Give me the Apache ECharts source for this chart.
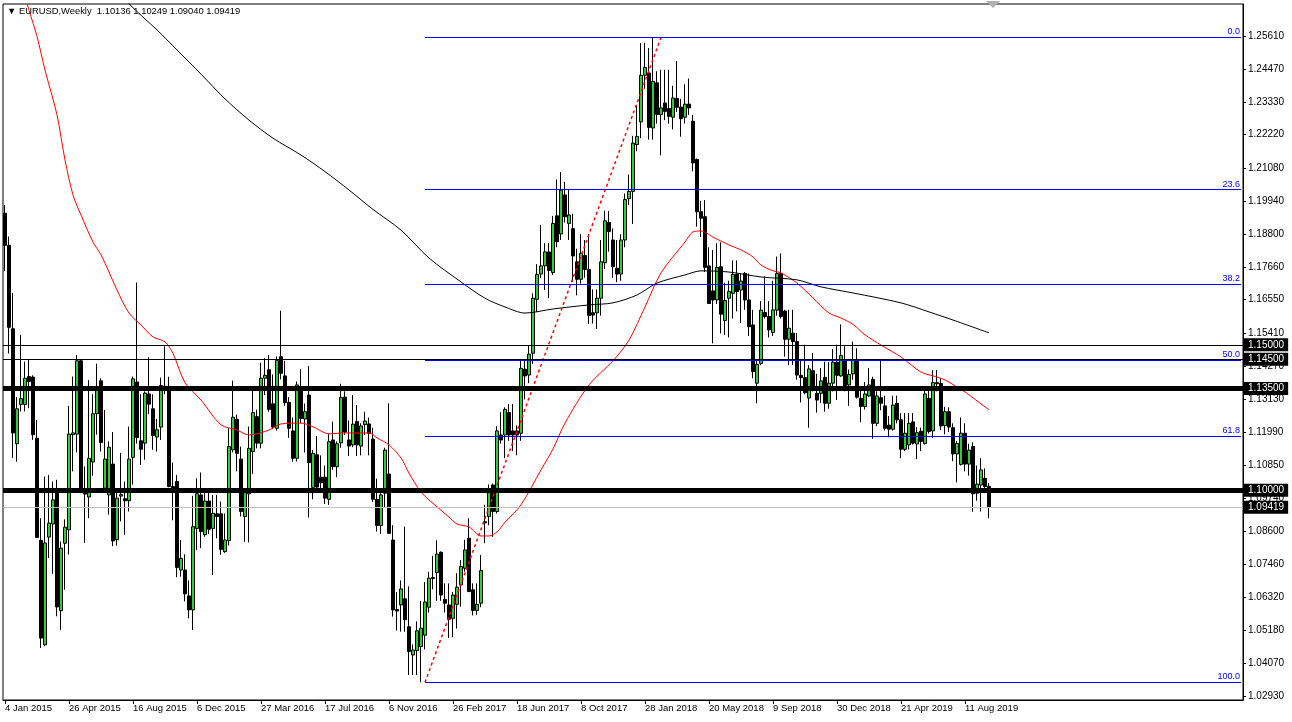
<!DOCTYPE html>
<html>
<head>
<meta charset="utf-8">
<script src="https://cdn.jsdelivr.net/npm/echarts@6/dist/echarts.min.js"></script>
<style>
html,body{margin:0;padding:0;background:#fff;}
#c{width:1292px;height:722px;}
</style>
</head>
<body>
<div id="c"></div>
<script>
// ---- Data (EURUSD weekly) ----
const headerText = '\u25BC EURUSD,Weekly  1.10136 1.10249 1.09040 1.09419';
const xTickLabels = ['4 Jan 2015','26 Apr 2015','16 Aug 2015','6 Dec 2015','27 Mar 2016','17 Jul 2016','6 Nov 2016','26 Feb 2017','18 Jun 2017','8 Oct 2017','28 Jan 2018','20 May 2018','9 Sep 2018','30 Dec 2018','21 Apr 2019','11 Aug 2019'];
const yTickValues = [1.25610,1.24470,1.23330,1.22220,1.21080,1.19940,1.18800,1.17660,1.16550,1.15410,1.14270,1.13130,1.11990,1.10850,1.09740,1.08600,1.07460,1.06320,1.05180,1.04070,1.02930];

const opens = [
1.1952,1.1842,1.1555,1.1160,1.1295,1.1295,1.1391,1.1389,1.1179,1.0828,
1.0469,1.0839,1.0884,1.0996,1.0586,1.0818,1.0864,1.1191,1.1193,1.1445,
1.0992,1.0977,1.1097,1.1263,1.1376,1.1007,1.0984,1.1090,1.0830,1.0980,
1.0971,1.0964,1.1113,1.1372,1.1170,1.1162,1.1331,1.1280,1.1183,1.1217,
1.1357,1.1345,1.1013,1.1030,1.0726,1.0726,1.0637,1.0589,1.0869,1.0984,
1.0847,1.0963,1.0869,1.0919,1.0919,1.0789,1.0827,1.1139,1.1244,1.1107,
1.0910,1.0988,1.1133,1.1253,1.1162,1.1385,1.1414,1.1297,1.1213,1.1459,
1.1393,1.1302,1.1204,1.1110,1.1345,1.1245,1.1327,1.1010,1.1122,1.1045,
1.1045,1.0969,1.1173,1.1081,1.1163,1.1320,1.1173,1.1156,1.1236,1.1152,
1.1226,1.1228,1.1176,1.0969,1.0879,1.0990,1.1056,1.0829,1.0590,1.0606,
1.0627,1.0531,1.0434,1.0449,1.0463,1.0502,1.0598,1.0700,1.0717,1.0787,
1.0625,1.0606,1.0560,1.0608,1.0675,1.0732,1.0835,1.0658,1.0587,1.0612,
1.0892,1.0910,1.1018,1.0927,1.1190,1.1190,1.1267,1.1204,1.1204,1.1196,
1.1416,1.1396,1.1471,1.1656,1.1743,1.1771,1.1819,1.1748,1.1943,1.1881,
1.2015,1.1917,1.1899,1.1785,1.1725,1.1807,1.1759,1.1610,1.1610,1.1660,
1.1782,1.1920,1.1860,1.1763,1.1743,1.1860,1.2002,1.2027,1.2188,1.2266,
1.2426,1.2434,1.2245,1.2400,1.2291,1.2331,1.2312,1.2282,1.2346,1.2317,
1.2282,1.2327,1.2268,1.2137,1.1957,1.1940,1.1771,1.1685,1.1654,1.1768,
1.1583,1.1660,1.1677,1.1742,1.1688,1.1745,1.1654,1.1568,1.1368,1.1436,
1.1611,1.1597,1.1542,1.1619,1.1745,1.1616,1.1519,1.1540,1.1511,1.1395,
1.1387,1.1317,1.1411,1.1333,1.1333,1.1388,1.1299,1.1368,1.1440,1.1393,
1.1445,1.1362,1.1400,1.1448,1.1316,1.1288,1.1324,1.1381,1.1230,1.1318,
1.1290,1.1224,1.1210,1.1299,1.1242,1.1141,1.1156,1.1235,1.1159,1.1203,
1.1161,1.1316,1.1204,1.1370,1.1367,1.1222,1.1270,1.1215,1.1125,1.1089,
1.1196,1.1090,1.1150,1.0990,1.1018,1.1041,1.10136];

const highs = [
1.1980,1.1872,1.1678,1.1320,1.1534,1.1442,1.1448,1.1395,1.1242,1.0904,
1.1047,1.1053,1.1030,1.1036,1.0824,1.0900,1.1290,1.1391,1.1465,1.1450,
1.1082,1.1379,1.1330,1.1435,1.1385,1.1276,1.1168,1.1200,1.0990,1.1128,
1.1030,1.1219,1.1391,1.1714,1.1330,1.1340,1.1457,1.1330,1.1245,1.1387,
1.1495,1.1390,1.1095,1.1053,1.0829,1.0780,1.0690,1.0981,1.1041,1.1061,
1.0990,1.0992,1.0984,1.0984,1.0961,1.0920,1.1213,1.1377,1.1260,1.1150,
1.1000,1.1219,1.1342,1.1277,1.1438,1.1454,1.1465,1.1398,1.1460,1.1617,
1.1445,1.1320,1.1250,1.1374,1.1416,1.1298,1.1427,1.1138,1.1186,1.1120,
1.1085,1.1193,1.1236,1.1168,1.1366,1.1340,1.1240,1.1327,1.1293,1.1230,
1.1270,1.1250,1.1215,1.1040,1.0990,1.1146,1.1299,1.0880,1.0650,1.0690,
1.0875,1.0670,1.0470,1.0550,1.0620,1.0685,1.0720,1.0775,1.0828,1.0790,
1.0680,1.0680,1.0650,1.0715,1.0760,1.0830,1.0904,1.0680,1.0680,1.0778,
1.0950,1.1020,1.1023,1.1220,1.1268,1.1285,1.1296,1.1296,1.1223,1.1445,
1.1445,1.1499,1.1677,1.1777,1.1912,1.1849,1.1850,1.1943,1.2068,1.2093,
1.2060,1.2035,1.1950,1.1830,1.1880,1.1860,1.1880,1.1690,1.1690,1.1860,
1.1961,1.1960,1.1900,1.1860,1.1880,1.2020,1.2085,1.2218,1.2323,1.2537,
1.2538,1.2520,1.2556,1.2440,1.2445,1.2445,1.2445,1.2390,1.2475,1.2345,
1.2395,1.2415,1.2290,1.2140,1.1995,1.1997,1.1835,1.1826,1.1849,1.1852,
1.1713,1.1720,1.1790,1.1790,1.1745,1.1750,1.1745,1.1620,1.1445,1.1650,
1.1735,1.1650,1.1720,1.1803,1.1814,1.1620,1.1620,1.1620,1.1540,1.1450,
1.1500,1.1430,1.1472,1.1400,1.1420,1.1442,1.1440,1.1485,1.1500,1.1570,
1.1495,1.1415,1.1511,1.1488,1.1342,1.1372,1.1420,1.1390,1.1340,1.1448,
1.1325,1.1255,1.1325,1.1325,1.1265,1.1265,1.1265,1.1265,1.1217,1.1215,
1.1348,1.1348,1.1413,1.1413,1.1385,1.1287,1.1285,1.1230,1.1170,1.1250,
1.1230,1.1160,1.1165,1.1085,1.1110,1.1075,1.10249];

const lows = [
1.1754,1.1470,1.1111,1.1098,1.1271,1.1271,1.1282,1.1173,1.0836,1.0458,
1.0464,1.0767,1.0712,1.0567,1.0520,1.0658,1.0779,1.1065,1.1130,1.0990,
1.0819,1.0904,1.1050,1.1191,1.1133,1.0992,1.0916,1.0808,1.0810,1.0893,
1.0847,1.0927,1.1019,1.1160,1.1087,1.1105,1.1262,1.1139,1.1133,1.1173,
1.1330,1.1010,1.0897,1.0701,1.0703,1.0618,1.0560,1.0520,1.0795,1.0801,
1.0840,1.0850,1.0709,1.0835,1.0778,1.0785,1.0810,1.1130,1.1065,1.0910,
1.0823,1.0821,1.1056,1.1144,1.1144,1.1327,1.1270,1.1210,1.1205,1.1381,
1.1290,1.1180,1.1098,1.1099,1.1230,1.1130,1.0906,1.0969,1.1002,1.1005,
1.0953,1.0950,1.1070,1.1045,1.1146,1.1190,1.1118,1.1148,1.1118,1.1120,
1.1190,1.1120,1.0960,1.0858,1.0850,1.0940,1.0850,1.0566,1.0518,1.0514,
1.0514,1.0365,1.0365,1.0365,1.0340,1.0453,1.0580,1.0660,1.0620,1.0620,
1.0580,1.0492,1.0495,1.0525,1.0600,1.0720,1.0650,1.0570,1.0572,1.0598,
1.0818,1.0880,1.0840,1.0920,1.1160,1.1110,1.1170,1.1135,1.1120,1.1170,
1.1312,1.1368,1.1434,1.1612,1.1730,1.1688,1.1660,1.1740,1.1835,1.1860,
1.1920,1.1860,1.1717,1.1670,1.1710,1.1730,1.1572,1.1573,1.1554,1.1600,
1.1760,1.1820,1.1730,1.1715,1.1720,1.1835,1.1980,1.1915,1.2165,1.2210,
1.2380,1.2205,1.2205,1.2260,1.2151,1.2272,1.2260,1.2240,1.2300,1.2215,
1.2260,1.2290,1.2096,1.1906,1.1870,1.1750,1.1640,1.1505,1.1640,1.1539,
1.1534,1.1525,1.1590,1.1615,1.1575,1.1620,1.1530,1.1385,1.1299,1.1430,
1.1590,1.1525,1.1530,1.1600,1.1590,1.1459,1.1430,1.1430,1.1380,1.1302,
1.1330,1.1215,1.1340,1.1267,1.1300,1.1270,1.1280,1.1340,1.1310,1.1390,
1.1340,1.1290,1.1380,1.1315,1.1234,1.1277,1.1320,1.1177,1.1220,1.1275,
1.1205,1.1182,1.1205,1.1230,1.1110,1.1135,1.1140,1.1157,1.1107,1.1135,
1.1157,1.1195,1.1180,1.1340,1.1207,1.1192,1.1200,1.1100,1.1027,1.1085,
1.1065,1.1050,1.0926,1.0964,1.0927,1.0990,1.09040];

const closes = [
1.1842,1.1560,1.1197,1.1280,1.1315,1.1385,1.1374,1.1191,1.0838,1.0492,
1.0819,1.0887,1.0967,1.0599,1.0801,1.0873,1.1193,1.1197,1.1445,1.1007,
1.0987,1.1110,1.1263,1.1351,1.1164,1.1107,1.1148,1.0826,1.0973,1.0985,
1.0964,1.1107,1.1383,1.1181,1.1141,1.1334,1.1296,1.1188,1.1208,1.1360,
1.1350,1.1013,1.1003,1.0735,1.0766,1.0644,1.0589,1.0875,1.0988,1.0858,
1.0963,1.0866,1.0921,1.0910,1.0797,1.0829,1.1150,1.1251,1.1127,1.0927,
1.0992,1.1144,1.1267,1.1162,1.1385,1.1395,1.1278,1.1217,1.1446,1.1402,
1.1301,1.1213,1.1110,1.1362,1.1247,1.1270,1.1095,1.1127,1.1011,1.1026,
1.0973,1.1167,1.1081,1.1160,1.1319,1.1200,1.1152,1.1227,1.1156,1.1221,
1.1238,1.1196,1.0969,1.0879,1.0984,1.1138,1.0852,1.0589,1.0585,1.0661,
1.0555,1.0446,1.0451,1.0517,1.0526,1.0616,1.0698,1.0697,1.0781,1.0640,
1.0612,1.0557,1.0640,1.0667,1.0738,1.0795,1.0652,1.0587,1.0608,1.0724,
1.0888,1.0992,1.0927,1.1204,1.1173,1.1278,1.1190,1.1190,1.1190,1.1419,
1.1393,1.1468,1.1660,1.1742,1.1771,1.1819,1.1755,1.1917,1.1854,1.2031,
1.1940,1.1946,1.1805,1.1725,1.1814,1.1759,1.1601,1.1602,1.1660,1.1785,
1.1926,1.1889,1.1768,1.1743,1.1860,1.1999,1.2027,1.2193,1.2216,1.2426,
1.2453,1.2247,1.2405,1.2291,1.2314,1.2302,1.2285,1.2348,1.2316,1.2277,
1.2327,1.2314,1.2125,1.1957,1.1935,1.1766,1.1642,1.1654,1.1766,1.1605,
1.1652,1.1683,1.1742,1.1683,1.1719,1.1654,1.1562,1.1408,1.1433,1.1619,
1.1597,1.1551,1.1620,1.1745,1.1597,1.1519,1.1557,1.1511,1.1396,1.1387,
1.1335,1.1417,1.1345,1.1310,1.1376,1.1299,1.1368,1.1440,1.1395,1.1463,
1.1350,1.1398,1.1448,1.1320,1.1288,1.1331,1.1362,1.1230,1.1324,1.1299,
1.1213,1.1210,1.1293,1.1242,1.1141,1.1196,1.1230,1.1162,1.1198,1.1168,
1.1331,1.1202,1.1370,1.1366,1.1221,1.1270,1.1217,1.1125,1.1161,1.1196,
1.1090,1.1138,1.0988,1.1021,1.1070,1.1013,1.09419];

// moving averages, [bar index, value]
const redMA = [[5,1.2700],[6,1.2650],[8,1.2560],[10,1.2444],[13,1.2290],[15,1.2135],[17,1.2015],[19,1.1946],[22,1.1853],[24,1.1809],[26,1.1750],[28,1.1688],[31,1.1609],[34,1.1568],[37,1.1527],[40,1.1510],[42,1.1470],[45,1.1370],[49,1.1310],[54,1.1225],[58,1.1207],[61,1.1190],[66,1.1207],[69,1.1228],[74,1.1231],[77,1.1218],[81,1.1194],[85,1.1197],[91,1.1197],[93,1.1180],[96,1.1156],[99,1.1111],[101,1.1059],[104,1.0994],[108,1.0943],[111,1.0908],[113,1.0884],[116,1.0874],[119,1.0843],[121,1.0843],[123,1.0857],[125,1.0890],[129,1.0950],[134,1.1070],[137,1.1142],[140,1.1231],[146,1.1362],[152,1.1445],[156,1.1516],[160,1.1630],[164,1.1747],[170,1.1853],[172,1.1888],[174,1.1891],[177,1.1870],[181,1.1843],[184,1.1826],[187,1.1802],[189,1.1774],[192,1.1754],[194,1.1747],[198,1.1712],[202,1.1661],[206,1.1609],[209,1.1592],[212,1.1570],[215,1.1534],[219,1.1499],[224,1.1458],[229,1.1406],[232,1.1393],[235,1.1379],[238,1.1355],[240,1.1338],[246,1.1276]];
const blackMA = [[30,1.2700],[31,1.2672],[38,1.2582],[43,1.2513],[49,1.2430],[55,1.2345],[61,1.2272],[67,1.2210],[74,1.2152],[80,1.2095],[86,1.2032],[92,1.1965],[99,1.1894],[106,1.1798],[114,1.1716],[120,1.1660],[125,1.1630],[130,1.1609],[137,1.1623],[146,1.1637],[152,1.1644],[158,1.1671],[163,1.1712],[170,1.1740],[174,1.1754],[181,1.1750],[189,1.1733],[198,1.1723],[204,1.1699],[212,1.1678],[224,1.1644],[231,1.1613],[237,1.1585],[246,1.1541]];

// Fibonacci retracement
const fibLevels = [0.0, 23.6, 38.2, 50.0, 61.8, 100.0];
const fibLabels = ['0.0','23.6','38.2','50.0','61.8','100.0'];
const fibHigh = 1.2556, fibLow = 1.0340;
const fibStartBar = 105, fibHighBar = 164;

// horizontal lines
const thinLevels = [1.15000, 1.14500];
const thickLevels = [1.13500, 1.10000];
const lastPrice = 1.09419;

// ---- Chart ----
const N_SLOTS = 310;
const slots = Array.from({length: N_SLOTS}, (_, i) => String(i));
const candleData = opens.map((o, i) => [o, closes[i], lows[i], highs[i]]);
const FONT = 'Liberation Sans, Arial, sans-serif';
const showTick = (idx) => idx % 16 === 0 && idx / 16 < xTickLabels.length;

const boxLabel = (txt) => ({
  show: true, position: 'end', formatter: txt, distance: 1,
  backgroundColor: '#000', color: '#fff', fontSize: 10, fontFamily: FONT,
  padding: [2, 4, 1, 4]
});

// one holder series per drawn level, so each line keeps its own style
function levelSeries(name, item, lineStyle, z) {
  return {
    name: name, type: 'line', data: [], symbol: 'none', silent: true, z: z,
    markLine: {
      symbol: ['none', 'none'], silent: true, animation: false, z: z, precision: 5,
      lineStyle: lineStyle, emphasis: {disabled: true}, data: [item]
    }
  };
}

const levelSeriesList = [];
fibLevels.forEach((lv, k) => {
  const p = fibHigh - (fibHigh - fibLow) * lv / 100;
  levelSeriesList.push(levelSeries('fib' + k, [
    {coord: [fibStartBar, p], lineStyle: {color: '#0000ff', width: 1, type: 'solid'},
     label: {show: true, position: 'insideEndTop', formatter: fibLabels[k], color: '#0000ff', fontSize: 9, fontFamily: FONT, distance: 1}},
    {coord: [N_SLOTS - 1, p], lineStyle: {color: '#0000ff', width: 1, type: 'solid'}}
  ], {color: '#0000ff', width: 1, type: 'solid'}, 6));
});
levelSeriesList.push(levelSeries('last', {yAxis: lastPrice, label: boxLabel(lastPrice.toFixed(5))}, {color: '#c0c0c0', width: 1, type: 'solid'}, 5));
thinLevels.forEach((v, k) => levelSeriesList.push(levelSeries('thin' + k, {yAxis: v, label: boxLabel(v.toFixed(5))}, {color: '#000', width: 1, type: 'solid'}, 5)));
thickLevels.forEach((v, k) => levelSeriesList.push(levelSeries('thick' + k, {yAxis: v, label: boxLabel(v.toFixed(5))}, {color: '#000', width: 5, type: 'solid'}, 7)));

const chart = echarts.init(document.getElementById('c'), null, {renderer: 'canvas'});
chart.setOption({
  animation: false,
  backgroundColor: '#fff',
  textStyle: {fontFamily: FONT},
  title: {
    text: headerText, left: 7, top: 7, padding: 0,
    textStyle: {fontSize: 9.4, fontWeight: 'normal', color: '#000', fontFamily: FONT}
  },
  graphic: [{type: 'polygon', shape: {points: [[986, 1], [1000, 1], [993, 8]]}, style: {fill: '#b0b0b0'}}],
  grid: {left: 3, right: 49, top: 4, bottom: 22, show: true, borderColor: '#000', borderWidth: 1, backgroundColor: '#fff'},
  xAxis: {
    type: 'category', data: slots, boundaryGap: true,
    axisLine: {lineStyle: {color: '#000', width: 1}},
    axisTick: {show: true, alignWithLabel: true, interval: showTick, length: 4, lineStyle: {color: '#000'}},
    axisLabel: {
      interval: showTick, align: 'left', fontSize: 9.5, color: '#000', margin: 3, fontFamily: FONT,
      formatter: (v, idx) => xTickLabels[idx / 16] || ''
    },
    splitLine: {show: false}
  },
  yAxis: {
    type: 'value', position: 'right', min: 1.02793, max: 1.26710, scale: true,
    axisLine: {show: true, lineStyle: {color: '#000'}},
    axisTick: {show: true, customValues: yTickValues, length: 3, lineStyle: {color: '#000'}},
    axisLabel: {customValues: yTickValues, formatter: v => v.toFixed(5), fontSize: 10, color: '#000', margin: 5, fontFamily: FONT},
    splitLine: {show: false}
  },
  series: [
    {
      name: 'EURUSD', type: 'candlestick', data: candleData, barWidth: 3, z: 2,
      itemStyle: {color: '#32CD32', color0: '#000000', borderColor: '#000000', borderColor0: '#000000', borderWidth: 1}
    },
    {
      name: 'MA red', type: 'line', data: redMA, symbol: 'none', smooth: 0.3, z: 3,
      lineStyle: {color: '#ff0000', width: 1}
    },
    {
      name: 'MA black', type: 'line', data: blackMA, symbol: 'none', smooth: 0.3, z: 3,
      lineStyle: {color: '#000000', width: 1}
    },
    {
      name: 'Fib trend', type: 'line', data: [[fibStartBar, fibLow], [fibHighBar, fibHigh]], symbol: 'none', z: 4,
      lineStyle: {color: '#ff0000', width: 1.5, type: [3, 3]}
    }
  ].concat(levelSeriesList)
});
</script>
</body>
</html>
